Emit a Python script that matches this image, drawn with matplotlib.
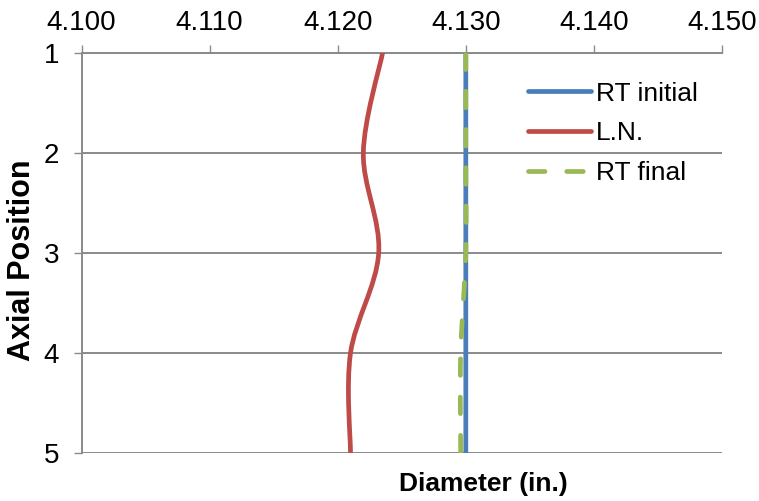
import numpy as np
import matplotlib
matplotlib.use('Agg')
import matplotlib.pyplot as plt
from matplotlib.path import Path
from matplotlib.patches import PathPatch
from matplotlib.lines import Line2D

plt.rcParams['font.family'] = ['Liberation Sans', 'DejaVu Sans']

## data ##
position = [1, 2, 3, 4, 5]
rt_initial = [4.1300, 4.1300, 4.1300, 4.1300, 4.1300]
ln = [4.1235, 4.1220, 4.1232, 4.1210, 4.1210]
rt_final = [4.1300, 4.1300, 4.1300, 4.1296, 4.1296]
xticks = [4.100, 4.110, 4.120, 4.130, 4.140, 4.150]
names = ['RT initial', 'L.N.', 'RT final']
colors = ['#4A7EBB', '#BE4B48', '#98B954']
grid_col = '#8A8A8A'


def smooth_path(xs, ys):
    # excel style smoothed line: cubic bezier through every point
    p = np.column_stack((xs, ys)).astype(float)
    n = len(p)
    verts = [p[0]]
    codes = [Path.MOVETO]
    for i in range(n - 1):
        p0 = p[i - 1] if i > 0 else p[i]
        p3 = p[i + 2] if i + 2 < n else p[i + 1]
        c1 = p[i] + (p[i + 1] - p0) / 6.0
        c2 = p[i + 1] - (p3 - p[i]) / 6.0
        verts += [c1, c2, p[i + 1]]
        codes += [Path.CURVE4] * 3
    return Path(verts, codes)


fig = plt.figure(figsize=(7.59, 5.01), dpi=100)
ax = fig.add_axes([81.5 / 759, 1 - 453 / 501, 640.5 / 759, 400 / 501])

styles = [dict(linestyle='-'), dict(linestyle='-'), dict(linestyle=(0, (3.5, 4.6)))]
series = [rt_initial, ln, rt_final]
for vals, col, st in zip(series, colors, styles):
    patch = PathPatch(smooth_path(vals, position), fill=False, edgecolor=col,
                      linewidth=3.4, capstyle='round', zorder=3, **st)
    ax.add_patch(patch)

ax.set_xlim(4.100, 4.150)
ax.set_ylim(5, 1)
ax.set_xticks(xticks)
ax.set_xticklabels(['%.3f' % v for v in xticks])
ax.set_yticks(position)
ax.xaxis.tick_top()
ax.tick_params(axis='x', direction='out', length=6, width=1, color=grid_col,
               labelsize=20, pad=6)
ax.tick_params(axis='y', direction='out', length=6, width=1, color=grid_col,
               labelsize=20, pad=10)
ax.yaxis.grid(True, color=grid_col, linewidth=1.4)
for s in ['right', 'bottom']:
    ax.spines[s].set_visible(False)
for s in ['left', 'top']:
    ax.spines[s].set_color(grid_col)
    ax.spines[s].set_linewidth(1.4)

fig.text(22 / 759, 1 - 260 / 501, 'Axial Position', fontsize=22,
         fontweight='bold', rotation=90, ha='center', va='center')
fig.text(483 / 759, 1 - 484 / 501, 'Diameter (in.)', fontsize=19,
         fontweight='bold', ha='center', va='center')

handles = [Line2D([], [], color=c, linewidth=3.4, solid_capstyle='round',
                  dash_capstyle='round', **st) for c, st in zip(colors, styles)]
leg = ax.legend(handles, names, loc='upper left', bbox_to_anchor=(0.68, 0.955),
                frameon=False, fontsize=19, handlelength=2.4, handletextpad=0.2,
                labelspacing=0.6, borderaxespad=0)

fig.savefig('out.png', dpi=100)
